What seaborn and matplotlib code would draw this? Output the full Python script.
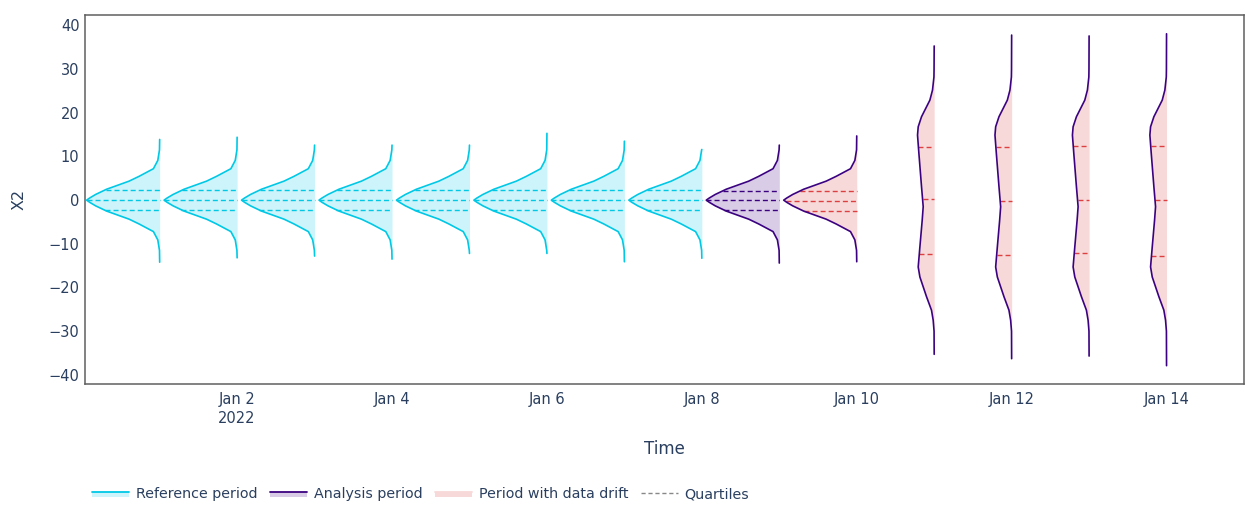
import numpy as np
import pandas as pd
import matplotlib
matplotlib.use("Agg")
import matplotlib.pyplot as plt
import matplotlib.dates as mdates
from matplotlib.patches import Patch, Rectangle
from matplotlib.lines import Line2D
from matplotlib.legend_handler import HandlerBase
import seaborn as sns
from datetime import datetime

# per-day summary
days = [datetime(2022, 1, d) for d in range(1, 15)]
period = ["reference"] * 8 + ["analysis"] * 6
drift = [False] * 9 + [True] * 5
shape = ["narrow"] * 10 + ["wide"] * 4
top = [13.9, 14.4, 12.6, 12.6, 12.6, 15.3, 13.5, 11.6, 12.6, 14.7, 35.3, 37.8, 37.6, 38.1]
bottom = [-14.2, -13.2, -12.8, -13.5, -12.2, -12.2, -14.1, -13.3, -14.4, -14.1, -35.3, -36.3, -35.7, -37.9]
q1 = [-2.3, -2.2, -2.2, -2.2, -2.2, -2.3, -2.2, -2.2, -2.3, -2.5, -12.4, -12.6, -12.0, -12.8]
med = [0.0, 0.0, 0.0, 0.0, 0.0, 0.0, 0.0, 0.0, 0.0, -0.3, 0.15, -0.1, 0.0, 0.1]
q3 = [2.4, 2.3, 2.3, 2.3, 2.3, 2.3, 2.3, 2.3, 2.1, 2.1, 12.1, 12.1, 12.4, 12.5]

# density profiles (estimated from outline widths)
narrow_vals = [-11.5, -9.1, -7.2, -5.45, -4.35, -2.5, -1.3, -0.5, 0.0,
               0.5, 1.3, 2.5, 4.35, 5.45, 7.2, 9.1, 11.5]
narrow_dens = [0.0003, 0.003, 0.010, 0.033, 0.049, 0.085, 0.1026, 0.112, 0.117,
               0.112, 0.1026, 0.085, 0.049, 0.033, 0.010, 0.003, 0.0003]
wide_vals = [-30.0, -27.5, -25.2, -22.1, -17.6, -15.3, -10.7, -4.6, -1.5, 3.1,
             10.7, 14.9, 16.8, 19.1, 22.9, 25.2, 28.2, 30.0]
wide_dens = [0.0002, 0.0016, 0.0043, 0.0123, 0.0229, 0.0256, 0.0229, 0.0192, 0.0176, 0.0203,
             0.0245, 0.0267, 0.0256, 0.0203, 0.0069, 0.0027, 0.0004, 0.0002]

REF = "#00c8e5"
ANA = "#3b0280"
RED = "#dd4040"
TXT = "#2a3f5f"
ref_fill = "#ccf4fa"
ana_fill = "#d8cce6"
red_fill = "#f8d9d9"

profiles = {"narrow": (narrow_vals, narrow_dens), "wide": (wide_vals, wide_dens)}
width_per_density = 0.943 / 0.117  # days per density unit

sns.set_style("white")
plt.rcParams["font.family"] = ["DejaVu Sans"]

fig = plt.figure(figsize=(12.55, 5.11), dpi=100)
ax = fig.add_axes([85 / 1255, 1 - 384 / 511, 1159 / 1255, 369 / 511])

for i, day in enumerate(days):
    x0 = mdates.date2num(day)
    vals, dens = profiles[shape[i]]
    ys = np.array([bottom[i]] + list(vals) + [top[i]])
    ws = np.array([0.0] + list(dens) + [0.0]) * width_per_density
    line_c = REF if period[i] == "reference" else ANA
    if drift[i]:
        fill_c, q_c = red_fill, RED
    elif period[i] == "reference":
        fill_c, q_c = ref_fill, REF
    else:
        fill_c, q_c = ana_fill, ANA
    ax.fill_betweenx(ys, x0 - ws, x0, color=fill_c, lw=0, zorder=1)
    outline = pd.DataFrame({"x": x0 - ws, "y": ys})
    sns.lineplot(data=outline, x="x", y="y", orient="y", estimator=None,
                 color=line_c, lw=1.2, ax=ax, zorder=3)
    for q in (q1[i], med[i], q3[i]):
        w = np.interp(q, ys, ws)
        ax.plot([x0 - w, x0], [q, q], color=q_c, lw=1.0, dashes=(3.6, 2.2), zorder=2)

base = mdates.date2num(days[0])
ax.set_xlim(base - 0.964, base + 14.0)
ax.set_ylim(-42.1, 42.4)

tick_days = days[1::2]
ax.set_xticks([mdates.date2num(d) for d in tick_days])
ax.set_xticklabels([f"Jan {d.day}" + ("\n2022" if k == 0 else "") for k, d in enumerate(tick_days)])
ax.set_yticks(range(-40, 41, 10))
ax.tick_params(axis="both", length=0, labelsize=10.5, labelcolor=TXT)
ax.tick_params(axis="x", pad=6)
ax.tick_params(axis="y", pad=4)
for lab in ax.get_xticklabels():
    lab.set_linespacing(1.3)

ax.set_xlabel("Time", fontsize=12, color=TXT, labelpad=10)
ax.set_ylabel("X2", fontsize=11.5, color=TXT, labelpad=16)
for s in ax.spines.values():
    s.set_color("#5f5f5f")
    s.set_linewidth(1.1)
ax.grid(False)


class FillLineHandler(HandlerBase):
    def create_artists(self, legend, orig_handle, xdescent, ydescent, width, height, fontsize, trans):
        y_top = -ydescent + height * 0.62
        rect = Rectangle((-xdescent, y_top - height * 0.5), width, height * 0.5,
                         facecolor=orig_handle.get_facecolor(), edgecolor="none", transform=trans)
        ln = Line2D([-xdescent, -xdescent + width], [y_top, y_top],
                    color=orig_handle.get_edgecolor(), lw=1.3, transform=trans)
        return [rect, ln]


handles = [
    Patch(facecolor=ref_fill, edgecolor=REF),
    Patch(facecolor=ana_fill, edgecolor=ANA),
    Patch(facecolor=red_fill, edgecolor=red_fill),
    Line2D([], [], color="#888888", lw=1.0, dashes=(3.0, 2.0)),
]
labels = ["Reference period", "Analysis period", "Period with data drift", "Quartiles"]
leg = fig.legend(handles, labels, loc="center left", bbox_to_anchor=(79 / 1255, 1 - 494 / 511),
                 ncol=4, frameon=False, fontsize=10.3, handlelength=2.6, handletextpad=0.45,
                 columnspacing=0.9, handler_map={Patch: FillLineHandler()})
for t in leg.get_texts():
    t.set_color(TXT)

fig.savefig("out.png", dpi=100)
